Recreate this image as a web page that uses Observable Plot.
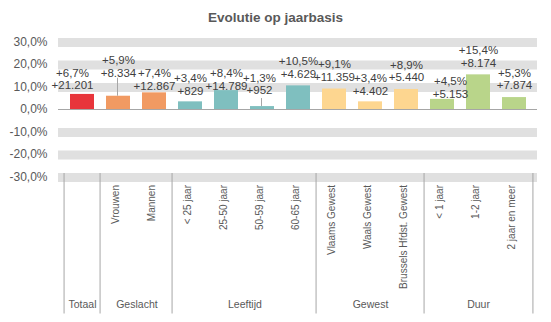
<!DOCTYPE html>
<html>
<head>
<meta charset="utf-8">
<script src="https://cdn.jsdelivr.net/npm/d3@7"></script>
<script src="https://cdn.jsdelivr.net/npm/@observablehq/plot@0.6"></script>
<style>
  html, body { margin: 0; padding: 0; background: #fff; }
  #title { height: 30px; font: bold 13.5px "Liberation Sans", Arial, sans-serif; line-height: 36px; text-align: center; color: #595959; width: 551px; }
</style>
</head>
<body>
<div id="title">Evolutie op jaarbasis</div>
<div id="chart"></div>
<script>
// ---- data ----
const categories = ["Totaal", "Vrouwen", "Mannen", "< 25 jaar", "25-50 jaar", "50-59 jaar", "60-65 jaar",
  "Vlaams Gewest", "Waals Gewest", "Brussels Hfdst. Gewest", "< 1 jaar", "1-2 jaar", "2 jaar en meer"];
const groupOf = ["Totaal", "Geslacht", "Geslacht", "Leeftijd", "Leeftijd", "Leeftijd", "Leeftijd",
  "Gewest", "Gewest", "Gewest", "Duur", "Duur", "Duur"];
const pctChange = [6.7, 5.9, 7.4, 3.4, 8.4, 1.3, 10.5, 9.1, 3.4, 8.9, 4.5, 15.4, 5.3];
const absChange = [21201, 8334, 12867, 829, 14789, 952, 4629, 11359, 4402, 5440, 5153, 8174, 7874];
const groups = ["Totaal", "Geslacht", "Leeftijd", "Gewest", "Duur"];
const groupColors = ["#E8353B", "#F19A62", "#7FBFBF", "#FDD690", "#B9D58A"];
const yTicks = [-30, -20, -10, 0, 10, 20, 30];

// ---- derived table ----
const data = categories.map((c, i) => ({cat: c, group: groupOf[i], pct: pctChange[i], abs: absChange[i]}));
const fmtPct = v => "+" + v.toFixed(1).replace(".", ",") + "%";
const fmtAbs = v => "+" + d3.format(",")(v).replace(/,/g, ".");

// ---- layout ----
const W = 551, H = 292, mL = 58, mR = 14, mT = 11.5, mB = 145.5;
const step = (W - mL - mR) / categories.length;
const font = '"Liberation Sans", Arial, sans-serif';

// label nudges (dx, dy relative to default placement)
const nudge = {
  "Totaal": [-10, 3], "Mannen": [0, 5], "25-50 jaar": [0, 7.5], "< 1 jaar": [8, 6.5],
  "Vrouwen": [0, -11], "50-59 jaar": [-3, -4], "< 25 jaar": [0, 1], "Waals Gewest": [0, 1]
};
const labelMarks = [];
const defaultSet = data.filter(d => !(d.cat in nudge));
function addLabels(rows, dx, dy) {
  labelMarks.push(Plot.text(rows, {x: "cat", y: "pct", text: d => fmtPct(d.pct), dx, dy: dy - 24.5, fill: "#404040", fontSize: 11.5}));
  labelMarks.push(Plot.text(rows, {x: "cat", y: "pct", text: d => fmtAbs(d.abs), dx, dy: dy - 12, fill: "#404040", fontSize: 11.5}));
}
addLabels(defaultSet, 0, 0);
for (const [k, [dx, dy]] of Object.entries(nudge)) addLabels(data.filter(d => d.cat === k), dx, dy);

// group label anchors: middle category, shifted half a step for even-sized groups
const groupLabelRows = groups.map(g => {
  const idx = categories.map((c, i) => i).filter(i => groupOf[i] === g);
  const mid = idx[Math.floor((idx.length - 1) / 2)];
  return {group: g, cat: categories[mid], even: idx.length % 2 === 0};
});
const groupStarts = groups.map(g => data.find(d => d.group === g));

const chart = Plot.plot({
  width: W, height: H,
  marginLeft: mL, marginRight: mR, marginTop: mT, marginBottom: mB,
  style: {fontFamily: font, background: "#fff", overflow: "visible"},
  x: {domain: categories, paddingInner: 0.335, paddingOuter: 0.1675, axis: null},
  y: {domain: [-30, 30], ticks: yTicks, axis: null, label: null},
  color: {domain: groups, range: groupColors},
  marks: [
    Plot.ruleY(yTicks.filter(t => t !== 0), {stroke: "#E0E0E0", strokeWidth: 9, dy: 0.5}),
    Plot.axisY({ticks: yTicks, tickSize: 0, tickPadding: 11, fontSize: 12, color: "#595959", label: null,
      tickFormat: d => d.toFixed(1).replace(".", ",") + "%"}),
    Plot.barY(data, {x: "cat", y: "pct", fill: "group"}),
    Plot.ruleY([0], {stroke: "#A6A6A6", strokeWidth: 1}),
    // leader lines
    Plot.ruleX(data.filter(d => d.cat === "Vrouwen"), {x: "cat", y1: "pct", y2: "pct", insetBottom: 18, stroke: "#A6A6A6", dx: -1}),
    Plot.ruleX(data.filter(d => d.cat === "50-59 jaar"), {x: "cat", y1: "pct", y2: "pct", insetBottom: 8, stroke: "#A6A6A6", dx: -1}),
    ...labelMarks,
    // category labels (Totaal has only its group label)
    Plot.text(data.filter(d => d.group !== "Totaal"), {x: "cat", text: "cat", frameAnchor: "bottom", rotate: -90, textAnchor: "end",
      dy: 8, fontSize: 10, fill: "#595959"}),
    // group separators
    Plot.ruleX(groupStarts, {x: "cat", dx: -step / 2, insetTop: 131.5, insetBottom: -137, stroke: "#A6A6A6"}),
    Plot.ruleX([categories[categories.length - 1]], {dx: step / 2, insetTop: 131.5, insetBottom: -137, stroke: "#A6A6A6"}),
    // group labels
    Plot.text(groupLabelRows.filter(d => !d.even), {x: "cat", text: "group", frameAnchor: "bottom", dy: 130.5, fontSize: 10.5, fill: "#595959"}),
    Plot.text(groupLabelRows.filter(d => d.even), {x: "cat", text: "group", frameAnchor: "bottom", dx: step / 2, dy: 130.5, fontSize: 10.5, fill: "#595959"})
  ]
});
document.getElementById("chart").appendChild(chart);
</script>
</body>
</html>
